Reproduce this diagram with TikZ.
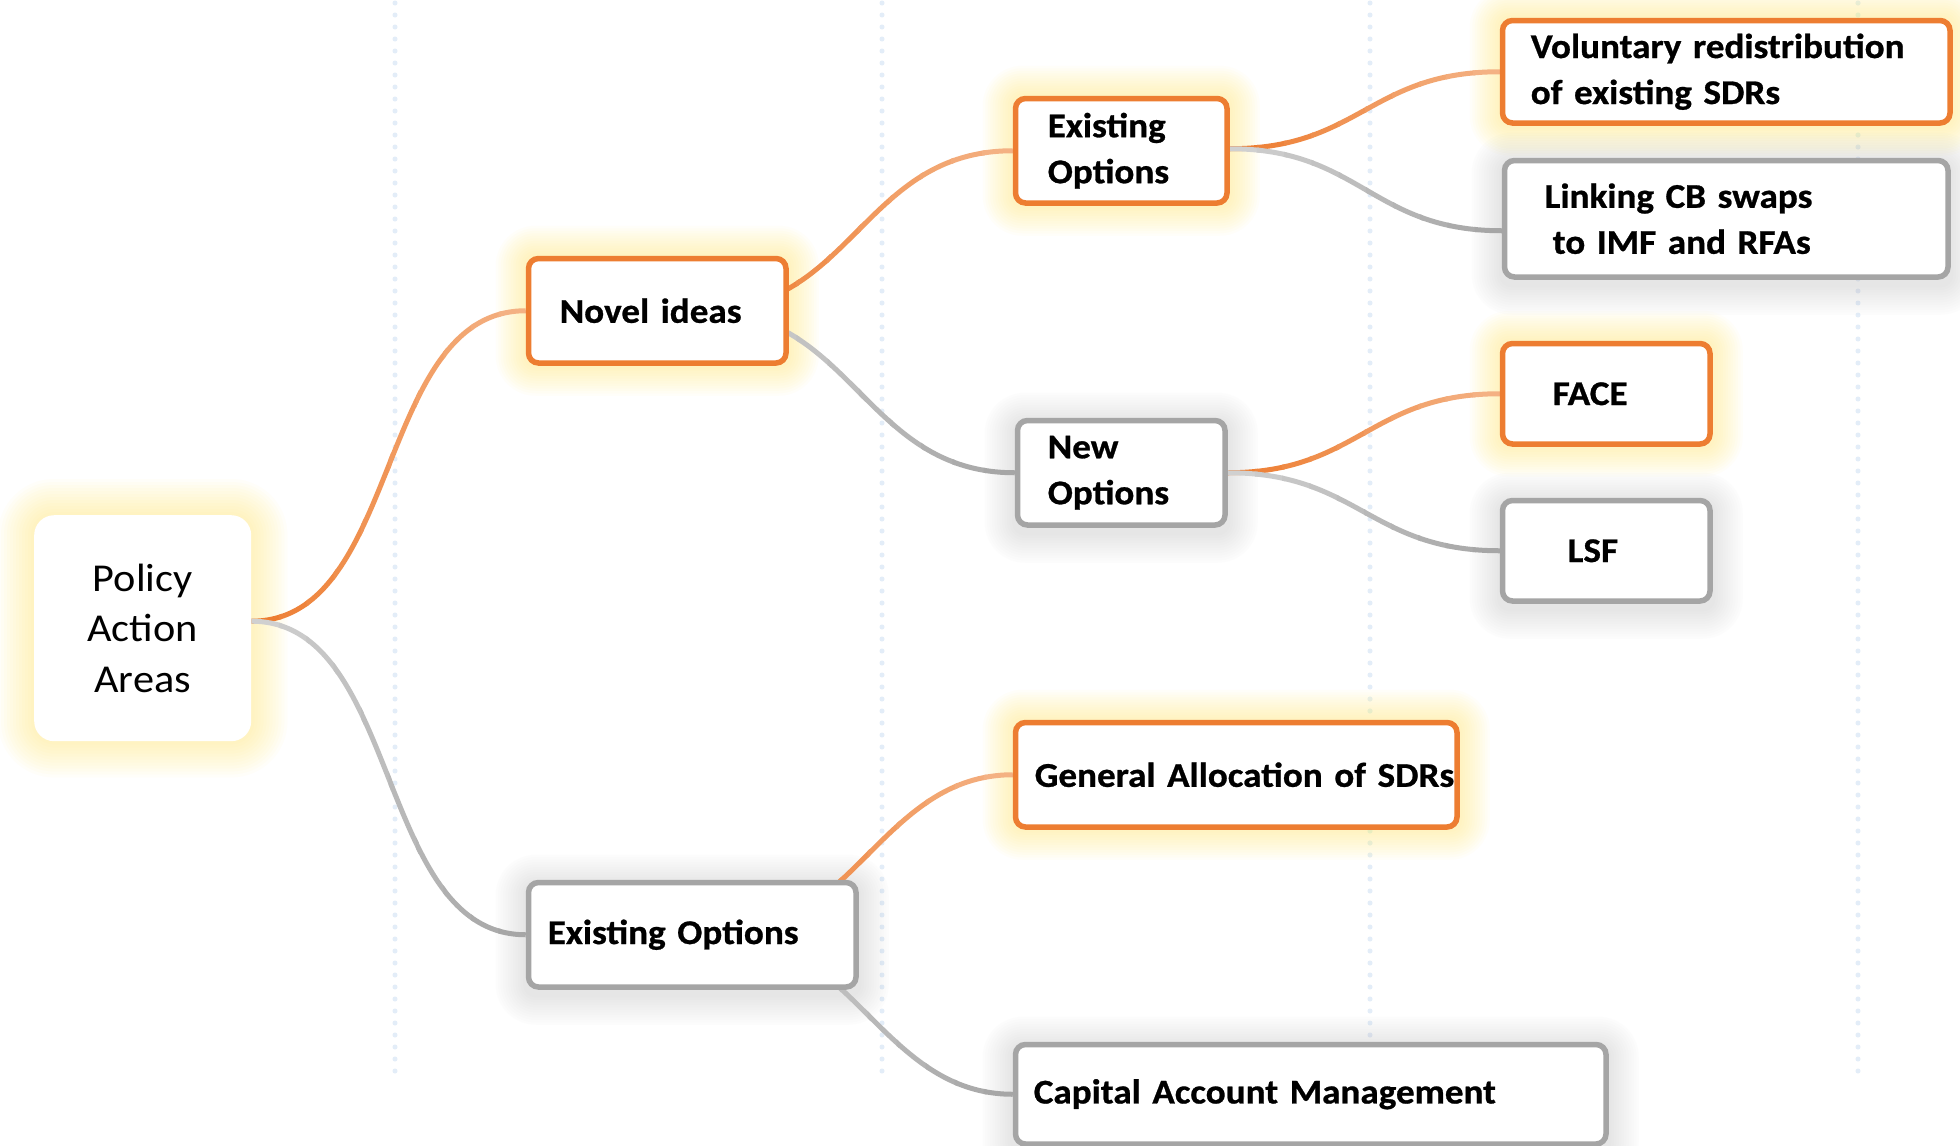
\documentclass[tikz,border=0pt]{standalone}
\usepackage{fontspec}
\usetikzlibrary{calc}
\newfontfamily\carl{Carlito}[FakeStretch=1.07, WordSpace=0.8, BoldFeatures={FakeBold=0.8}]
\definecolor{obord}{HTML}{ED7D31}
\definecolor{gbord}{HTML}{A5A5A5}
\definecolor{odark}{HTML}{ED7D31}
\definecolor{olight}{HTML}{F4B183}
\definecolor{glight}{HTML}{D0D0D0}
\definecolor{gdark}{HTML}{A6A6A6}
\definecolor{glowy}{HTML}{FFF176}
\definecolor{glowg}{HTML}{BDBDBD}
\definecolor{dotc}{HTML}{E3EDF8}
\pgfdeclarelayer{bg}\pgfdeclarelayer{glowl}\pgfdeclarelayer{connl}
\pgfsetlayers{bg,glowl,connl,main}
\tikzset{
 box/.style={draw, line width=5.5pt, rounded corners=10pt, fill=white, anchor=north west,
   inner ysep=0pt, align=left, text=black, font=\carl\bfseries\fontsize{34.7}{46}\selectfont},
 obox/.style={box, draw=obord},
 gbox/.style={box, draw=gbord},
 rootbox/.style={fill=white, rounded corners=20pt, anchor=north west, inner sep=0pt, align=center,
   text=black, font=\carl\fontsize{39.5}{50.6}\selectfont},
 linkline/.style={line width=5pt},
 dotline/.style={draw=dotc, line width=5pt, line cap=round, dash pattern=on 0pt off 12pt}
}
% name, left, top, width, height, text offset, style, text
\newcommand\bnode[8]{%
 \pgfmathsetmacro\bw{#4-5.5}\pgfmathsetmacro\bh{#5-5.5}%
 \pgfmathsetmacro\bx{#6-2.75}\pgfmathsetmacro\tw{#4-2*#6}%
 \node[#7, minimum width=\bw pt, minimum height=\bh pt, inner xsep=\bx pt, text width=\tw pt]
   (#1) at ({#2+2.75},{#3+2.75}) {#8};}
% from, to, colour at start, colour at end, control distance
\newcommand\gconn[5]{%
 \foreach \i in {0,...,9}{%
  \pgfmathsetmacro\fa{ifthenelse(\i==0,-0.2,\i/10)}%
  \pgfmathsetmacro\fb{ifthenelse(\i==9,1.2,(\i+1)/10+0.01)}%
  \pgfmathtruncatemacro\pc{100-\i*100/9}%
  \begin{scope}
   \clip ($(#1)!\fa!(#2)+(0,-3000pt)$) rectangle ($(#1)!\fb!(#2)+(0,3000pt)$);
   \draw[linkline, draw=#3!\pc!#4] (#1) .. controls +(#5pt,0) and +(-#5pt,0) .. (#2);
  \end{scope}}}
% node, colour, opacity, downward shift, step, base radius
\newcommand\glow[6]{%
 \foreach \k in {1,...,12}{%
  \pgfmathsetmacro\ee{\k*#5}\pgfmathsetmacro\rr{#6+\k*#5}%
  \fill[#2, opacity=#3, rounded corners=\rr pt]
   ($(#1.south west)+(-\ee pt,-\ee pt-#4pt)$) rectangle ($(#1.north east)+(\ee pt,\ee pt-#4pt)$);}}

\begin{document}
\begin{tikzpicture}[x=1pt,y=-1pt]
\useasboundingbox (0,0) rectangle (1960,1146);
\begin{pgfonlayer}{bg}
 \fill[white] (0,0) rectangle (1960,1146);
 \foreach \x in {395,882,1370,1858} \draw[dotline] (\x,3) -- (\x,1082);
\end{pgfonlayer}

\node[rootbox, minimum width=217pt, minimum height=226pt] (root) at (34,515) {Policy\\Action\\Areas};
\bnode{novel}{523}{253}{263}{110}{34}{obox}{Novel ideas}
\bnode{ex2}{523}{877}{333}{110}{22}{gbox}{Existing Options}
\bnode{ex1}{1010}{93}{217}{110}{35}{obox}{Existing\\Options}
\bnode{new}{1012}{415}{213}{110}{33}{gbox}{New\\Options}
\bnode{general}{1010}{717}{447}{110}{22}{obox}{\mbox{General Allocation of SDRs}}
\bnode{capital}{1010}{1039}{596}{105}{21}{gbox}{\mbox{Capital Account Management}}
\bnode{vol}{1497}{15}{453}{108}{31}{obox}{Voluntary redistribution\\of existing SDRs}
\bnode{link}{1499}{155}{449}{122}{43}{gbox}{Linking CB swaps\\\hspace*{8pt}to IMF and RFAs}
\bnode{face}{1497}{338}{213}{106}{53}{obox}{FACE}
\bnode{lsf}{1497}{495}{213}{106}{68}{gbox}{LSF}

\begin{pgfonlayer}{glowl}
 \glow{root}{glowy}{0.045}{0}{3}{20}
 \glow{novel}{glowy}{0.045}{0}{2.5}{10}
 \glow{ex1}{glowy}{0.045}{0}{2.5}{10}
 \glow{vol}{glowy}{0.045}{0}{2.5}{10}
 \glow{face}{glowy}{0.045}{0}{2.5}{10}
 \glow{general}{glowy}{0.045}{0}{2.5}{10}
 \glow{ex2}{glowg}{0.03}{5}{2.5}{10}
 \glow{new}{glowg}{0.03}{5}{2.5}{10}
 \glow{link}{glowg}{0.03}{5}{2.5}{10}
 \glow{lsf}{glowg}{0.03}{5}{2.5}{10}
 \glow{capital}{glowg}{0.03}{5}{2.5}{10}
\end{pgfonlayer}

\coordinate (r0) at ($(root.east)+(0,7pt)$);
\coordinate (n0) at ($(novel.east)+(-86pt,0)$);
\coordinate (e1) at ($(ex1.east)+(0,2pt)$);
\coordinate (w0) at (new.east);
\coordinate (x0) at ($(ex2.center)+(30pt,0)$);
\coordinate (lk) at ($(link.west)+(0,-12pt)$);

\begin{pgfonlayer}{connl}
 \gconn{r0}{novel.west}{odark}{olight}{150}
 \gconn{r0}{ex2.west}{glight}{gdark}{150}
 \gconn{n0}{ex1.west}{odark}{olight}{150}
 \gconn{n0}{new.west}{glight}{gdark}{150}
 \gconn{e1}{vol.west}{odark}{olight}{130}
 \gconn{e1}{lk}{glight}{gdark}{130}
 \gconn{w0}{face.west}{odark}{olight}{130}
 \gconn{w0}{lsf.west}{glight}{gdark}{130}
 \gconn{x0}{general.west}{odark}{olight}{130}
 \gconn{x0}{capital.west}{glight}{gdark}{130}
\end{pgfonlayer}
\end{tikzpicture}
\end{document}
